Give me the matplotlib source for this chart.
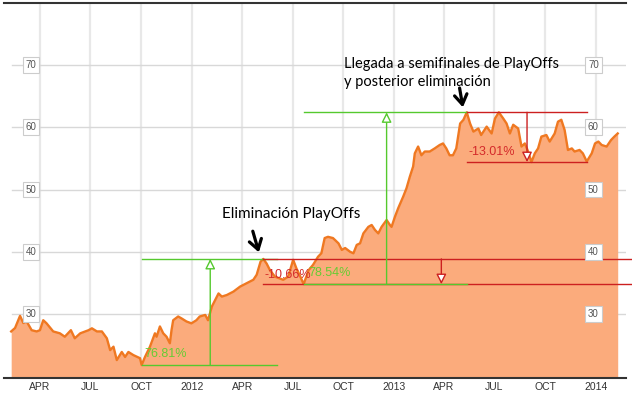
import matplotlib
matplotlib.use("Agg")
import matplotlib.pyplot as plt
import matplotlib.dates as mdates
import pandas as pd

# price series
dates = [
    "2011-02-08", "2011-02-15", "2011-02-24", "2011-03-02", "2011-03-08", "2011-03-17",
    "2011-03-26", "2011-04-01", "2011-04-07", "2011-04-13", "2011-04-25", "2011-05-07",
    "2011-05-16", "2011-05-27", "2011-06-03", "2011-06-13", "2011-06-28", "2011-07-04",
    "2011-07-13", "2011-07-22", "2011-07-31", "2011-08-06", "2011-08-12", "2011-08-18",
    "2011-08-27", "2011-09-02", "2011-09-08", "2011-09-17", "2011-09-29", "2011-10-02",
    "2011-10-08", "2011-10-17", "2011-10-26", "2011-10-29", "2011-11-04", "2011-11-10",
    "2011-11-16", "2011-11-22", "2011-11-25", "2011-11-28", "2011-12-07", "2011-12-13",
    "2011-12-22", "2011-12-31", "2012-01-09", "2012-01-15", "2012-01-25", "2012-01-30",
    "2012-02-06", "2012-02-12", "2012-02-18", "2012-02-24", "2012-03-04", "2012-03-16",
    "2012-03-28", "2012-04-09", "2012-04-21", "2012-04-27", "2012-05-04", "2012-05-09",
    "2012-05-15", "2012-05-21", "2012-05-30", "2012-06-08", "2012-06-14", "2012-06-23",
    "2012-07-02", "2012-07-08", "2012-07-15", "2012-07-21", "2012-07-30", "2012-08-07",
    "2012-08-16", "2012-08-22", "2012-08-28", "2012-09-03", "2012-09-12", "2012-09-22",
    "2012-09-28", "2012-10-04", "2012-10-13", "2012-10-19", "2012-10-25", "2012-10-31",
    "2012-11-06", "2012-11-15", "2012-11-21", "2012-11-27", "2012-12-03", "2012-12-09",
    "2012-12-18", "2012-12-24", "2012-12-27", "2013-01-02", "2013-01-08", "2013-01-17",
    "2013-01-23", "2013-01-29", "2013-02-04", "2013-02-07", "2013-02-13", "2013-02-19",
    "2013-02-25", "2013-03-06", "2013-03-15", "2013-03-24", "2013-03-30", "2013-04-05",
    "2013-04-11", "2013-04-17", "2013-04-23", "2013-04-30", "2013-05-06", "2013-05-12",
    "2013-05-18", "2013-05-24", "2013-06-02", "2013-06-07", "2013-06-17", "2013-06-26",
    "2013-07-02", "2013-07-09", "2013-07-17", "2013-07-23", "2013-07-29", "2013-08-04",
    "2013-08-13", "2013-08-19", "2013-08-25", "2013-08-31", "2013-09-06", "2013-09-12",
    "2013-09-18", "2013-09-24", "2013-10-03", "2013-10-09", "2013-10-18", "2013-10-24",
    "2013-10-30", "2013-11-05", "2013-11-11", "2013-11-18", "2013-11-23", "2013-12-02",
    "2013-12-08", "2013-12-15", "2013-12-24", "2013-12-30", "2014-01-05", "2014-01-11",
    "2014-01-20", "2014-01-28", "2014-02-03", "2014-02-09",
]
prices = [
    27.2, 27.75, 29.7, 28.55, 28.8, 27.4,
    27.2, 27.4, 29.0, 28.5, 27.2, 26.9,
    26.35, 27.4, 26.1, 26.9, 27.4, 27.7,
    27.2, 27.2, 26.1, 24.2, 24.75, 22.6,
    23.9, 23.1, 23.9, 23.4, 22.9, 21.8,
    23.1, 24.75, 26.9, 26.35, 28.0, 26.9,
    26.35, 25.3, 27.4, 29.0, 29.6, 29.3,
    28.8, 28.5, 29.0, 29.6, 29.85, 29.0,
    31.2, 32.25, 33.3, 32.8, 33.05, 33.6,
    34.4, 34.95, 35.5, 36.3, 38.4, 38.85,
    38.1, 37.05, 36.0, 35.7, 35.5, 36.0,
    38.7, 37.3, 36.0, 34.8, 37.05, 37.9,
    39.2, 39.75, 42.2, 42.4, 42.2, 41.35,
    40.3, 40.6, 40.0, 39.75, 41.1, 41.35,
    42.95, 44.0, 44.3, 43.5, 42.95, 44.0,
    45.1, 44.3, 44.0, 45.6, 47.0, 48.85,
    50.2, 52.05, 53.7, 55.8, 56.9, 55.5,
    56.1, 56.1, 56.6, 57.15, 57.4, 56.6,
    55.5, 55.5, 56.6, 60.6, 61.2, 62.4,
    60.6, 59.3, 59.8, 58.75, 60.1, 59.0,
    61.4, 62.4, 61.4, 60.6, 59.0, 60.4,
    59.8, 56.9, 57.4, 56.1, 54.4, 55.8,
    56.6, 58.5, 58.75, 57.7, 59.0, 60.9,
    61.2, 59.55, 56.35, 56.6, 56.1, 56.35,
    55.8, 54.5, 55.8, 57.4, 57.7, 57.15,
    56.9, 57.95, 58.5, 59.0,
]

# measured moves: (line start, line end, arrow date, level from, level to, label, label pos)
moves = [
    ("2011-10-02", "2012-06-03", "2012-02-03", 21.8, 38.85, "76.81%", ("2011-10-06", 23.6)),
    ("2012-05-09", "2014-03-16", "2013-03-27", 38.85, 34.8, "-10.66%", ("2012-05-12", 36.3)),
    ("2012-07-21", "2013-05-12", "2012-12-18", 34.8, 62.4, "78.54%", ("2012-07-29", 36.6)),
    ("2013-05-12", "2013-12-15", "2013-08-29", 62.4, 54.4, "-13.01%", ("2013-05-16", 56.0)),
]

tick_dates = ["2011-04-01", "2011-07-01", "2011-10-01", "2012-01-01", "2012-04-01",
              "2012-07-01", "2012-10-01", "2013-01-01", "2013-04-01", "2013-07-01",
              "2013-10-01", "2014-01-01"]
tick_labels = ["APR", "JUL", "OCT", "2012", "APR", "JUL", "OCT", "2013", "APR", "JUL",
               "OCT", "2014"]
y_levels = [30, 40, 50, 60, 70]

GREEN = "#55c92e"
RED = "#cc2020"

x = pd.to_datetime(dates)

fig = plt.figure(figsize=(6.32, 3.93), dpi=100)
ax = fig.add_axes([4 / 632, 15 / 393, 622 / 632, 375 / 393])

ax.set_xlim(mdates.date2num(pd.Timestamp("2012-01-01")) - 340,
            mdates.date2num(pd.Timestamp("2012-01-01")) + 785)
ax.set_ylim(19.72, 79.96)

# grid under the area
for td in tick_dates:
    ax.axvline(pd.Timestamp(td), color="#e8e8e8", lw=1.6, zorder=0)
for yl in y_levels:
    ax.axhline(yl, color="#d8d8d8", lw=1, zorder=0, xmin=0.013)

ax.fill_between(x, prices, 0, color="#fbab7c", lw=0, zorder=1)
ax.plot(x, prices, color="#ef7821", lw=1.7, zorder=2)

# move annotations
for start, end, mid, a, b, label, (lx, ly) in moves:
    col = GREEN if b > a else RED
    s, e = pd.Timestamp(start), pd.Timestamp(end)
    ax.plot([s, e], [a, a], color=col, lw=1, zorder=4, clip_on=False)
    ax.plot([s, e], [b, b], color=col, lw=1, zorder=4, clip_on=False)
    ax.annotate("", xy=(pd.Timestamp(mid), b), xytext=(pd.Timestamp(mid), a),
                arrowprops=dict(arrowstyle="-|>,head_length=0.6,head_width=0.3",
                                fc="white", ec=col, lw=1, shrinkA=0, shrinkB=0,
                                mutation_scale=10), zorder=5)
    ax.text(pd.Timestamp(lx), ly, label, color="#66cc33" if b > a else "#d42a2a",
            fontsize=9, family="Liberation Sans", va="center", ha="left", zorder=6)

# hand-drawn style pointers
ax.annotate("", xy=(pd.Timestamp("2012-05-01"), 39.9), xytext=(pd.Timestamp("2012-04-20"), 43.3),
            arrowprops=dict(arrowstyle="->,head_length=0.7,head_width=0.45", color="black",
                            lw=2.3, shrinkA=0, shrinkB=0), zorder=7)
ax.annotate("", xy=(pd.Timestamp("2013-05-05"), 63.2), xytext=(pd.Timestamp("2013-04-29"), 66.3),
            arrowprops=dict(arrowstyle="->,head_length=0.7,head_width=0.45", color="black",
                            lw=2.3, shrinkA=0, shrinkB=0), zorder=7)

ax.text(pd.Timestamp("2012-02-24"), 46.1, "Eliminación PlayOffs", fontsize=11,
        family="Lato", va="center", ha="left", zorder=7)
ax.text(pd.Timestamp("2012-10-02"), 68.7, "Llegada a semifinales de PlayOffs\ny posterior eliminación",
        fontsize=10.5, family="Lato", va="center", ha="left", linespacing=1.3, zorder=7)

# boxed y labels on both sides
for yl in y_levels:
    for xd in ["2011-03-16", "2013-12-27"]:
        ax.text(pd.Timestamp(xd), yl, str(yl), fontsize=7, color="#555555",
                family="Liberation Sans", ha="center", va="center", zorder=8,
                bbox=dict(boxstyle="square,pad=0.3", fc="white", ec="#cccccc", lw=0.8))

ax.set_yticks([])
ax.set_xticks([pd.Timestamp(t) for t in tick_dates])
ax.set_xticklabels(tick_labels, fontsize=7.5, color="#333333", family="Liberation Sans")
ax.tick_params(axis="x", length=0, pad=3)

for side in ["left", "right"]:
    ax.spines[side].set_visible(False)
ax.spines["top"].set_color("#333333")
ax.spines["top"].set_linewidth(1.5)
ax.spines["bottom"].set_color("#333333")
ax.spines["bottom"].set_linewidth(1.5)

fig.savefig("out.png", dpi=100)
